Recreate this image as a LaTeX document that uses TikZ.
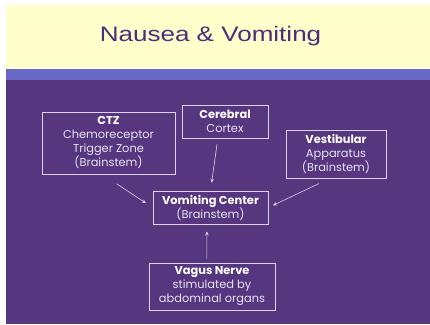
\documentclass[tikz,border=0pt]{standalone}
\usepackage{fontspec}
\setmainfont{Poppins}
\newfontfamily\titlefont{Liberation Sans}
\usetikzlibrary{arrows.meta}

\definecolor{bandyellow}{HTML}{FFFFCC}
\definecolor{bandblue}{HTML}{6868C8}
\definecolor{slidepurple}{HTML}{56367F}
\definecolor{titlepurple}{HTML}{4F2C7C}
\definecolor{boxline}{HTML}{DCD3EA}
\definecolor{boxtext}{HTML}{E9E3F2}

\tikzset{
    causebox/.style={draw=boxline, line width=0.8pt, text=boxtext, align=center,
        font=\fontsize{11.4}{14}\selectfont, inner sep=2pt},
    pathway/.style={-{Stealth[length=4pt,width=3.5pt]}, draw=boxline, line width=0.6pt},
}

\begin{document}
\begin{tikzpicture}[x=1pt, y=-1pt]
    % 背景
    \useasboundingbox (0,0) rectangle (430,324);
    \fill[bandyellow] (6,5) rectangle (430,69);
    \fill[bandblue] (6,69) rectangle (430,80);
    \fill[slidepurple] (6,80) rectangle (430,324);

    % 标题
    \node[text=titlepurple, font=\titlefont\fontsize{21}{25}\selectfont] (title) at (210.5,36.5)
        {\scalebox{1.24}[1]{Nausea \& Vomiting}};

    % 方框
    \node[causebox, minimum width=133pt, minimum height=62pt] (ctz) at (108.5,143)
        {\textbf{\color{white}CTZ}\\Chemoreceptor\\Trigger Zone\\(Brainstem)};
    \node[causebox, minimum width=86pt, minimum height=33pt] (cortex) at (225,121.5)
        {\textbf{\color{white}Cerebral}\\Cortex};
    \node[causebox, minimum width=100pt, minimum height=48pt] (vest) at (336,154)
        {\textbf{\color{white}Vestibular}\\Apparatus\\(Brainstem)};
    \node[causebox, minimum width=115pt, minimum height=33pt] (vc) at (210.5,207.5)
        {\textbf{\color{white}Vomiting Center}\\(Brainstem)};
    \node[causebox, minimum width=126pt, minimum height=47pt] (vagus) at (212,286.5)
        {\textbf{\color{white}Vagus Nerve}\\stimulated by\\abdominal organs};

    % 箭头
    \foreach \from/\to/\s/\e in {ctz.259/vc.180/17/8, cortex.247/vc.90/6/8,
                                 vest.256/vc.0/12/5, vagus.102/vc.258/4/7} {
        \draw[pathway, shorten <=\s pt, shorten >=\e pt] (\from) -- (\to);
    }
\end{tikzpicture}
\end{document}
